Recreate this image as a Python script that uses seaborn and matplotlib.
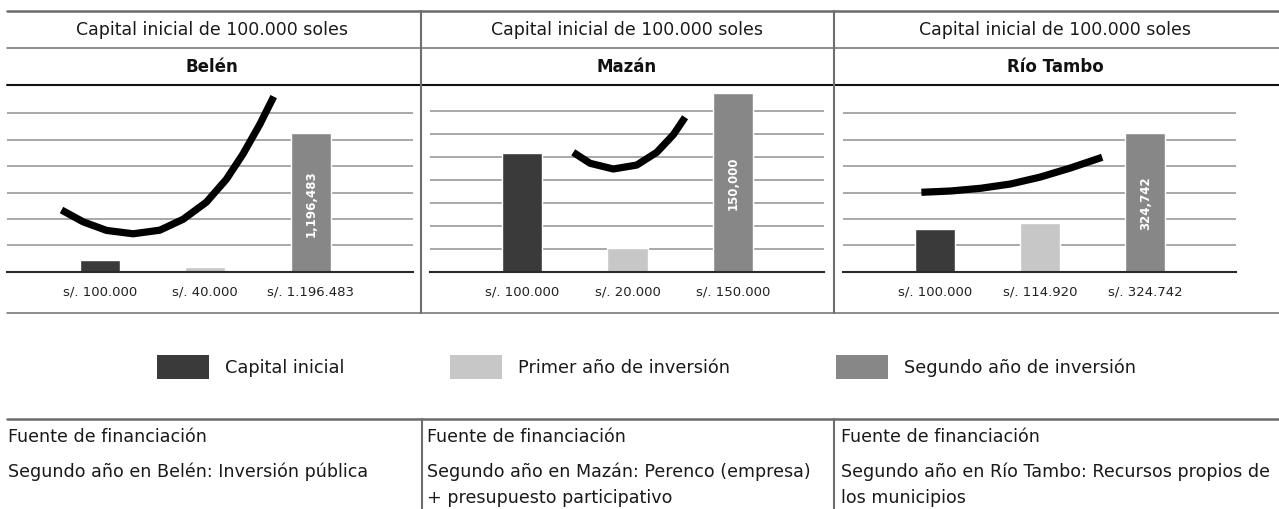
import numpy as np
import pandas as pd
import matplotlib
matplotlib.use("Agg")
import matplotlib.pyplot as plt
import seaborn as sns
from matplotlib.lines import Line2D
from matplotlib.patches import Rectangle

# ---------------- data ----------------
regiones = ["Belén", "Mazán", "Río Tambo"]
series = ["Capital inicial", "Primer año de inversión", "Segundo año de inversión"]
capital_inicial = [100000, 100000, 100000]
primer_anio = [40000, 20000, 114920]
segundo_anio = [1196483, 150000, 324742]

fuentes = [
    "Segundo año en Belén: Inversión pública",
    "Segundo año en Mazán: Perenco (empresa)\n+ presupuesto participativo",
    "Segundo año en Río Tambo: Recursos propios de\nlos municipios",
]

# trend curves (x in category units, y in soles)
belen_curva_x = [-0.363, -0.158, 0.064, 0.316, 0.569, 0.790, 1.011, 1.201, 1.358, 1.517, 1.649]
belen_curva_y = [532000, 430000, 356000, 327000, 358000, 452000, 600000, 798000, 1015000, 1270000, 1510000]
mazan_curva_x = [0.486, 0.645, 0.865, 1.087, 1.277, 1.434, 1.545]
mazan_curva_y = [100200, 91000, 86200, 89500, 100200, 115000, 129600]
rio_curva_x = [-0.126, 0.152, 0.436, 0.720, 1.005, 1.289, 1.590]
rio_curva_y = [185900, 188950, 195270, 205340, 221730, 242810, 267860]
curvas = [(belen_curva_x, belen_curva_y), (mazan_curva_x, mazan_curva_y), (rio_curva_x, rio_curva_y)]

COLORES = ["#3a3a3a", "#c6c7c6", "#878787"]


def soles(v):
    return "s/. " + f"{v:,}".replace(",", ".")


# ---------------- figure ----------------
W, H = 1279, 510
sns.set_theme(style="white")
plt.rcParams["font.family"] = ["DejaVu Sans"]
fig = plt.figure(figsize=(W / 100, H / 100), dpi=100)


def fx(px):
    return px / W


def fy(py):
    return 1 - py / H


BASE, TOP = 272.7, 86.0
paneles = [
    dict(left=7, right=413, ymax=1610000, step=26.4, n=6, xlim=(-0.88, 2.97)),
    dict(left=430, right=824, ymax=156700, step=23.0, n=7, xlim=(-0.87, 2.86)),
    dict(left=843, right=1236, ymax=437100, step=26.4, n=6, xlim=(-0.87, 2.86)),
]

for i, lay in enumerate(paneles):
    ax = fig.add_axes([fx(lay["left"]), fy(BASE), fx(lay["right"] - lay["left"]), (BASE - TOP) / H])
    valores = [capital_inicial[i], primer_anio[i], segundo_anio[i]]
    df = pd.DataFrame({"serie": series, "valor": valores, "etiqueta": [soles(v) for v in valores]})
    sns.barplot(data=df, x="etiqueta", y="valor", hue="serie", hue_order=series,
                palette=COLORES, width=0.38, dodge=False, legend=False,
                saturation=1, ax=ax, zorder=2)
    cx, cy = curvas[i]
    sns.lineplot(x=cx, y=cy, sort=False, estimator=None, color="black", lw=5.2,
                 ax=ax, zorder=3, solid_capstyle="butt", solid_joinstyle="round")
    ax.set_ylim(0, lay["ymax"])
    ax.set_xlim(*lay["xlim"])
    frac = lay["step"] / (BASE - TOP)
    ax.set_yticks([lay["ymax"] * frac * k for k in range(1, lay["n"] + 1)])
    ax.tick_params(axis="y", length=0, labelleft=False)
    ax.grid(axis="y", color="#9a9a9a", lw=1.2)
    ax.grid(axis="x", visible=False)
    ax.set_axisbelow(True)
    for s in ["top", "left", "right"]:
        ax.spines[s].set_visible(False)
    ax.spines["bottom"].set_color("#2a2a2a")
    ax.spines["bottom"].set_linewidth(1.5)
    ax.set_xlabel("")
    ax.set_ylabel("")
    ax.tick_params(axis="x", length=0, pad=9, labelsize=9.5, labelcolor="#222222")
    ax.patch.set_alpha(0)
    ax.text(2, segundo_anio[i] / 2, f"{segundo_anio[i]:,}", rotation=90, ha="center",
            va="center", color="white", fontsize=8.5, fontweight="bold", zorder=4)

# ---------------- table (top) ----------------
def hline(y, x0, x1, color, lw):
    fig.add_artist(Line2D([fx(x0), fx(x1)], [fy(y), fy(y)], color=color, lw=lw))


def vline(x, y0, y1, color, lw):
    fig.add_artist(Line2D([fx(x), fx(x)], [fy(y0), fy(y1)], color=color, lw=lw))


hline(12, 7, 1279, "#6a6a6a", 1.8)
hline(48.5, 7, 1279, "#6e6e6e", 1.1)
hline(86, 7, 1279, "#111111", 1.5)
hline(313.5, 7, 1279, "#6e6e6e", 1.1)
vline(420.5, 12, 313.5, "#6e6e6e", 1.5)
vline(834, 12, 313.5, "#6e6e6e", 1.5)

centros = [212, 627, 1055]
for i, c in enumerate(centros):
    fig.text(fx(c), fy(30), f"Capital inicial de {capital_inicial[i]:,} soles".replace(",", "."),
             ha="center", va="center", fontsize=12.5, color="#1a1a1a")
    fig.text(fx(c), fy(67), regiones[i], ha="center", va="center", fontsize=12,
             fontweight="bold", color="#111111")

# ---------------- legend ----------------
leyenda_x = [157, 450, 836]
for i, x0 in enumerate(leyenda_x):
    fig.add_artist(Rectangle((fx(x0), fy(380)), fx(52), 24 / H, color=COLORES[i], lw=0))
    fig.text(fx(x0 + 68), fy(368), series[i], ha="left", va="center", fontsize=12.8, color="#1a1a1a")

# ---------------- table (bottom) ----------------
hline(419.5, 7, 1279, "#6a6a6a", 1.8)
vline(421.5, 419.5, 510, "#6e6e6e", 1.5)
vline(833.5, 419.5, 510, "#6e6e6e", 1.5)
col_x = [8, 427, 841]
for i, x0 in enumerate(col_x):
    fig.text(fx(x0), fy(437), "Fuente de financiación", ha="left", va="center",
             fontsize=12.6, color="#1a1a1a")
    fig.text(fx(x0), fy(463), fuentes[i], ha="left", va="top", fontsize=12.6,
             color="#1a1a1a", linespacing=1.55)

fig.savefig("out.png", dpi=100)
